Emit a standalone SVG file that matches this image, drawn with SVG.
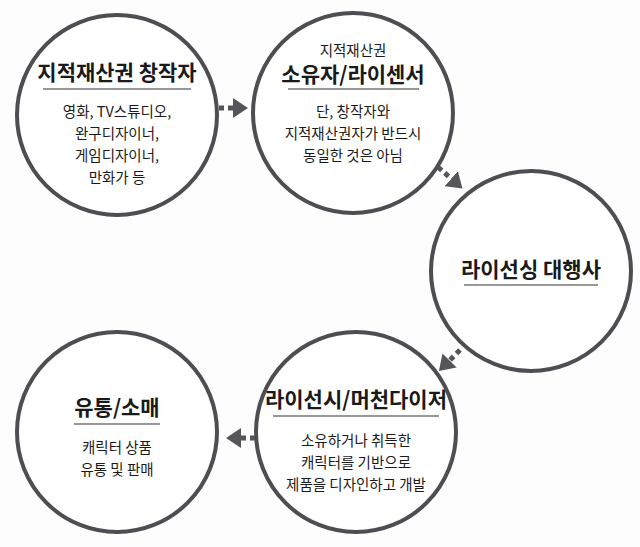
<svg xmlns="http://www.w3.org/2000/svg" width="640" height="547" viewBox="0 0 640 547">
<style>
.c{fill:#fff;stroke:#4d4d52;stroke-width:4}
.t{font-family:"Noto Sans CJK KR","Noto Sans",sans-serif;fill:#1a1a1a;text-anchor:middle}
.h{font-size:21px;font-weight:bold}
.s{font-size:14.5px}
.u{stroke:#333;stroke-width:1.2}
.a{stroke:#55555a;stroke-width:5;stroke-dasharray:5 4;fill:none;marker-end:url(#m)}
</style>
<defs><marker id="m" markerWidth="4" markerHeight="4" refX="1" refY="2" orient="auto" markerUnits="strokeWidth"><path d="M0,0L3,2L0,4z" fill="#55555a"/></marker></defs>
<rect width="640" height="547" fill="#fdfdfd"/>
<g id="connectors">
<path class="a" d="M219,108H238"/>
<path class="a" d="M438,167L455,182"/>
<path class="a" d="M460,350L446,364"/>
<path class="a" d="M255,438H236"/>
</g>
<g id="n1"><circle class="c" cx="117" cy="115" r="100"/>
<text class="t h" x="117" y="80">지적재산권 창작자</text><line class="u" x1="43" y1="89" x2="191" y2="89"/>
<text class="t s" x="117" y="117">영화, TV스튜디오,</text><text class="t s" x="117" y="139">완구디자이너,</text><text class="t s" x="117" y="161">게임디자이너,</text><text class="t s" x="117" y="183">만화가 등</text></g>
<g id="n2"><circle class="c" cx="353" cy="113" r="100"/>
<text class="t s" x="353" y="56">지적재산권</text>
<text class="t h" x="353" y="82">소유자/라이센서</text><line class="u" x1="288" y1="89" x2="419" y2="89"/>
<text class="t s" x="353" y="117">단, 창작자와</text><text class="t s" x="353" y="139">지적재산권자가 반드시</text><text class="t s" x="353" y="161">동일한 것은 아님</text></g>
<g id="n3"><circle class="c" cx="531" cy="271" r="100"/>
<text class="t h" x="531" y="277">라이선싱 대행사</text><line class="u" x1="464" y1="285" x2="598" y2="285"/></g>
<g id="n4"><circle class="c" cx="356" cy="432" r="100"/>
<text class="t h" x="356" y="407">라이선시/머천다이저</text><line class="u" x1="273" y1="416" x2="439" y2="416"/>
<text class="t s" x="356" y="446">소유하거나 취득한</text><text class="t s" x="356" y="468">캐릭터를 기반으로</text><text class="t s" x="356" y="490">제품을 디자인하고 개발</text></g>
<g id="n5"><circle class="c" cx="117" cy="432" r="100"/>
<text class="t h" x="117" y="415">유통/소매</text><line class="u" x1="74" y1="424" x2="160" y2="424"/>
<text class="t s" x="117" y="453">캐릭터 상품</text><text class="t s" x="117" y="475">유통 및 판매</text></g>
</svg>
